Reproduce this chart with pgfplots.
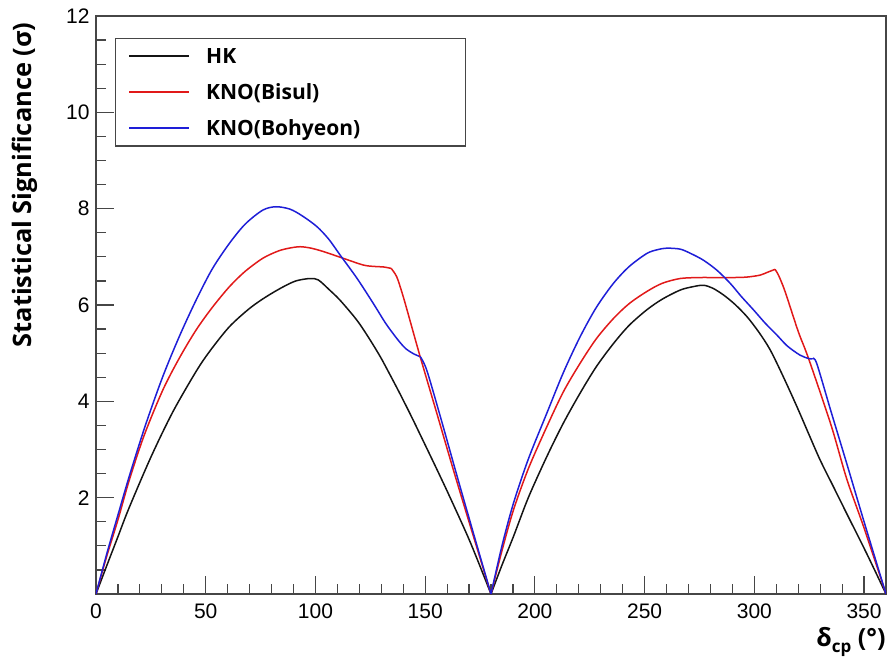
\documentclass[border=0pt]{standalone}
\usepackage{fontspec}
\setmainfont{Liberation Sans}
\newfontfamily\labelfont{Open Sans}
\usepackage{pgfplots}
\pgfplotsset{compat=1.18}
\usetikzlibrary{calc}

\definecolor{hkblack}{RGB}{20,20,20}
\definecolor{bisulred}{RGB}{225,25,25}
\definecolor{bohblue}{RGB}{30,30,215}
\definecolor{framegray}{RGB}{70,70,70}

\newcommand{\legfont}{\labelfont\bfseries\fontsize{10.5}{12.6}\selectfont}

\pgfplotsset{
    hk/.style={hkblack, line width=0.75pt, smooth, tension=0.5},
    bisul/.style={bisulred, line width=0.75pt, smooth, tension=0.5},
    boh/.style={bohblue, line width=0.75pt, smooth, tension=0.5},
}

\begin{document}
\begin{tikzpicture}
\begin{axis}[
    name=main,
    scale only axis,
    width=395pt, height=289pt,
    xmin=0, xmax=360, ymin=0, ymax=12,
    xtick={0,50,...,350},
    minor x tick num=4,
    ytick={0,2,...,12},
    yticklabels={,2,4,6,8,10,12},
    minor y tick num=3,
    tick align=inside,
    xtick pos=bottom, ytick pos=left,
    major tick length=9pt, minor tick length=5pt,
    axis line style={framegray, line width=0.6pt},
    tick style={framegray, line width=0.6pt},
    tick label style={font=\fontsize{10.5}{12}\selectfont, /pgf/number format/assume math mode=true},
    xticklabel style={inner sep=0pt, anchor=north, yshift=-4.5pt},
    yticklabel style={inner sep=0pt, anchor=east, xshift=-3pt},
    legend cell align=left,
    legend image code/.code={\draw[#1, line width=0.9pt] (0pt,0pt) -- (30pt,0pt); \path (38pt,0pt);},
    legend style={at={(0.024,0.962)}, anchor=north west, draw=framegray, line width=0.6pt,
        inner xsep=6.5pt, inner ysep=3.7pt, row sep=7.7pt, font=\legfont,
        nodes={inner sep=0pt}, cells={anchor=west}},
]
% HK, first half
\addplot[hk] coordinates {
    (0,0) (5,0.6) (10,1.19) (15,1.78) (25.1,2.85) (35,3.78) (45.6,4.62) (52,5.05)
    (60.8,5.55) (70,5.93) (77.5,6.17) (85,6.37) (91.1,6.50) (97.5,6.55) (101.3,6.52)
    (106,6.33) (111.2,6.10) (118.8,5.69) (124,5.34) (129.5,4.93) (134,4.55) (138.6,4.15)
    (144,3.66) (149.2,3.17) (155,2.62) (161.4,2.00) (170.5,1.08) (180,0)
};
\addlegendentry{\makebox[123pt][l]{\strut HK}}

% KNO(Bisul), first half up to the shoulder
\addplot[bisul] coordinates {
    (0,0) (5,0.8) (10,1.54) (15.2,2.37) (22,3.3) (30.4,4.23) (38,4.9) (45.6,5.48)
    (53,5.95) (60.8,6.38) (68,6.7) (76,6.97) (83,7.12) (88,7.18) (93,7.21) (98,7.18)
    (103.6,7.11) (112,6.98) (121.8,6.83) (127,6.80) (131,6.79) (134.5,6.76)
};
\addlegendentry{\makebox[123pt][l]{\strut KNO(Bisul)}}

% KNO(Bohyeon), first half up to the kink
\addplot[boh] coordinates {
    (0,0) (5,0.85) (10,1.64) (15.2,2.45) (22.5,3.5) (30.4,4.51) (38,5.35) (45.6,6.10)
    (53,6.75) (60.8,7.28) (68,7.68) (76,7.97) (82,8.04) (88.4,7.99) (94,7.85)
    (100.6,7.63) (106,7.37) (111.2,7.04) (119,6.55) (126.4,6.03) (132,5.62) (137,5.31)
    (141,5.10) (145,4.98) (147.7,4.93)
};
\addlegendentry{\makebox[123pt][l]{\strut KNO(Bohyeon)}}

% remaining pieces
\addplot[hk, forget plot] coordinates {
    (180,0) (185,0.6) (190.2,1.19) (197,2.0) (205.4,2.85) (213,3.55) (220.6,4.17) (228,4.72)
    (235.8,5.20) (243,5.58) (251,5.90) (258,6.12) (266.2,6.31) (272,6.38) (276.8,6.41)
    (281,6.35) (285.9,6.21) (291,6.02) (296.6,5.76) (302,5.44) (307.2,5.07) (313,4.53)
    (319.4,3.89) (325,3.30) (330,2.78) (336,2.23) (342.1,1.67) (351.2,0.84) (360,0)
};
\addplot[bisul, forget plot] coordinates {
    (134.5,6.76) (137,6.59) (139.5,6.25) (141.6,5.92) (147.7,4.93) (155,3.80) (164.4,2.34) (180,0)
};
\addplot[bisul, forget plot] coordinates {
    (180,0) (185,0.9) (190.2,1.74) (197,2.6) (205.4,3.47) (213,4.2) (220.6,4.79) (228,5.3)
    (235.8,5.72) (243,6.03) (251,6.28) (258,6.45) (266.2,6.55) (275,6.57) (281.4,6.57)
    (290,6.57) (296.6,6.58) (302.6,6.62) (306,6.68) (309.4,6.74)
};
\addplot[bisul, forget plot] coordinates {
    (309.4,6.74) (311,6.62) (314,6.28) (320,5.45) (324.7,4.89) (335,3.50) (342.1,2.39) (350,1.37) (360,0)
};
\addplot[boh, forget plot] coordinates {
    (147.7,4.93) (150.7,4.65) (157,3.67) (164.4,2.47) (172,1.26) (180,0)
};
\addplot[boh, forget plot] coordinates {
    (180,0) (185,1.0) (190.2,1.88) (197,2.8) (205.4,3.75) (213,4.6) (220.6,5.34) (228,5.95)
    (235.8,6.45) (243,6.8) (251,7.07) (256,7.15) (260.1,7.18) (266.2,7.16) (271,7.07)
    (276.8,6.93) (283,6.72) (289,6.45) (294,6.18) (299.6,5.90) (305,5.62) (310.2,5.38)
    (315,5.15) (320.8,4.96) (324.7,4.89) (326.5,4.88)
};
\addplot[boh, forget plot] coordinates {
    (326.5,4.88) (328.4,4.79) (335,3.78) (342.1,2.71) (350,1.50) (360,0)
};
\end{axis}

\node[rotate=90, anchor=east, inner sep=0pt, font=\labelfont\bfseries\fontsize{12.7}{14}\selectfont]
    at ($(main.north west)+(-35.75pt,-3pt)$) {Statistical Significance (σ)};
\node[anchor=north east, inner sep=0pt, font=\labelfont\bfseries\fontsize{12.5}{14}\selectfont]
    at ($(main.south east)+(0,-16.5pt)$) {δ\raisebox{-3pt}{\fontsize{8.5}{9}\selectfont cp} (°)};

\pgfresetboundingbox
\path ($(main.south west)+(-48pt,-32.5pt)$) rectangle ($(main.north east)+(2.5pt,8pt)$);
\end{tikzpicture}
\end{document}
